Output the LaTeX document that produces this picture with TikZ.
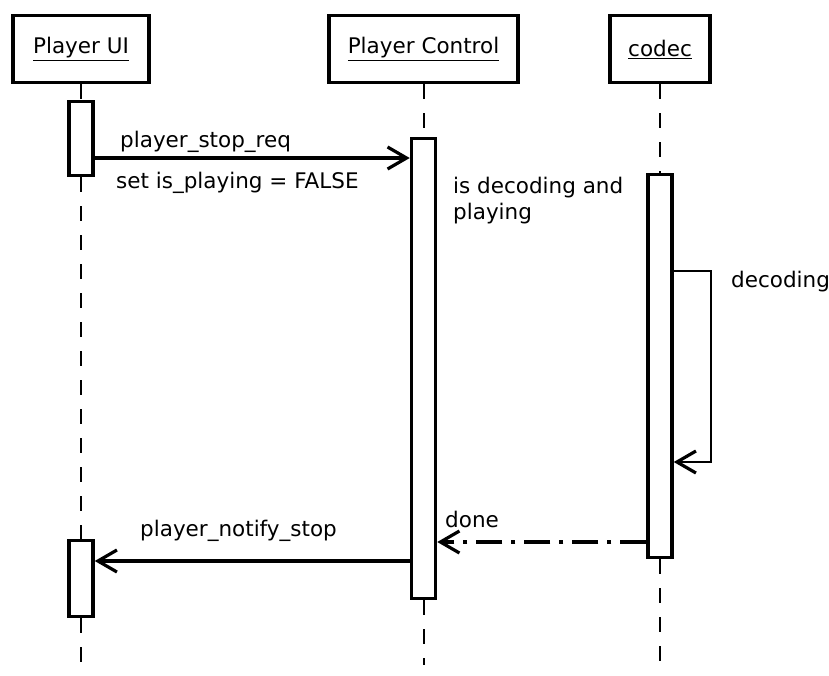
\documentclass[tikz,border=0pt]{standalone}
\usepackage{fontspec}
\setmainfont{DejaVu Sans}
\usetikzlibrary{arrows.meta}

\begin{document}
\begin{tikzpicture}[x = 1pt, y = -1pt,
        every node/.style = {font = \fontsize{21.5}{26}\selectfont},
        head/.style = {draw, line width = 3.5pt, minimum height = 67pt, inner sep = 0pt},
        act/.style = {draw, line width = 3.5pt, fill = white, minimum width = 24pt, inner sep = 0pt},
        life/.style = {line width = 2pt, dash pattern = on 15pt off 14pt},
        msg/.style = {line width = 3.2pt, -{Straight Barb[length = 19pt, width = 22pt, line width = 3.2pt]}},
        lbl/.style = {inner sep = 0pt, anchor = base west}]

        \useasboundingbox (0, 0) rectangle (829, 675);

        % lifeline heads
        \node [head, minimum width = 136pt] (ui) at (81, 49) {\underline{Player UI}};
        \node [head, minimum width = 189pt] (pc) at (423.5, 49) {\underline{Player Control}};
        \node [head, minimum width = 100pt] (cd) at (660, 49) {\underline{codec}};

        % activations
        \node [act, minimum height = 74pt] (ui1) at (81, 138.5) {};
        \node [act, minimum height = 76pt] (ui2) at (81, 578.5) {};
        \node [act, minimum height = 460pt] (pca) at (423.5, 368.5) {};
        \node [act, minimum height = 383pt] (cda) at (660, 366) {};

        \coordinate (ui-end) at (81, 662);
        \coordinate (pc-end) at (423.5, 665);
        \coordinate (cd-end) at (660, 663);

        % dashed lifelines
        \draw [life] (ui) -- (ui1);
        \draw [life] (ui1) -- (ui2);
        \draw [life] (ui2) -- (ui-end);
        \draw [life] (pc) -- (pca);
        \draw [life] (pca) -- (pc-end);
        \draw [life] (cd) -- (cda);
        \draw [life] (cda) -- (cd-end);

        % messages
        \draw [msg] (ui1.east |- 0, 158) -- (pca.west |- 0, 158);
        \draw [msg, line width = 2.4pt] (cda.east |- 0, 271) -- ++(37, 0) |- (cda.east |- 0, 462);
        \draw [msg, dash pattern = on 26pt off 9pt on 4pt off 9pt] (cda.west |- 0, 542) -- (pca.east |- 0, 542);
        \draw [msg] (pca.west |- 0, 561) -- (ui2.east |- 0, 561);

        \node [lbl] (stop-req) at (120, 147) {player\_stop\_req};
        \node [lbl] (set-flag) at (116, 188) {set is\_playing = FALSE};
        \node [lbl, anchor = north west, align = left] (state) at (453, 177) {is decoding and\\playing};
        \node [lbl] (decoding) at (731, 287) {decoding};
        \node [lbl] (done) at (445, 527) {done};
        \node [lbl] (notify) at (140, 536) {player\_notify\_stop};

    \end{tikzpicture}
\end{document}
